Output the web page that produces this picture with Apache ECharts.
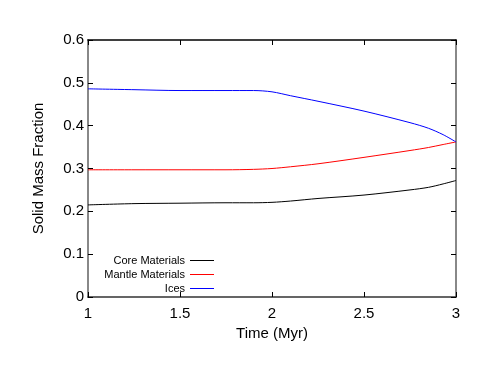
<!DOCTYPE html>
<html>
<head>
<meta charset="utf-8">
<script src="https://cdn.jsdelivr.net/npm/echarts@6/dist/echarts.min.js"></script>
<style>
  html, body { margin: 0; padding: 0; background: #fff; }
  #chart { width: 485px; height: 374px; }
</style>
</head>
<body>
<div id="chart"></div>
<script>
  // values
  var time = [1, 1.25, 1.5, 1.75, 1.9, 2.0, 2.1, 2.25, 2.5, 2.75, 2.85, 2.93, 3];
  var core = [0.215, 0.218, 0.219, 0.220, 0.220, 0.221, 0.224, 0.230, 0.238, 0.250, 0.256, 0.264, 0.272];
  var mantle = [0.297, 0.297, 0.297, 0.297, 0.298, 0.300, 0.304, 0.311, 0.326, 0.342, 0.349, 0.356, 0.362];
  var ices = [0.486, 0.484, 0.482, 0.482, 0.482, 0.479, 0.470, 0.457, 0.434, 0.407, 0.394, 0.379, 0.362];
  var seriesNames = ['Core Materials', 'Mantle Materials', 'Ices'];
  var colors = ['#000000', '#ff0000', '#0000ff'];

  function pairs(ys) {
    var out = [];
    for (var i = 0; i < time.length; i++) {
      out.push([time[i], ys[i]]);
    }
    return out;
  }

  var font = 'Liberation Sans, Arial, sans-serif';
  var chart = echarts.init(document.getElementById('chart'));

  var tickStyle = { show: true, inside: true, length: 5, lineStyle: { color: '#000', width: 1 } };

  var options = {
    animation: false,
    grid: { left: 88, top: 40, right: 29, bottom: 77 },
    legend: {
      orient: 'vertical',
      align: 'right',
      right: 266,
      top: 250,
      itemWidth: 24,
      itemHeight: 1,
      itemGap: 3,
      icon: 'rect',
      textStyle: { fontFamily: font, fontSize: 11, color: '#000' },
      data: seriesNames
    },
    xAxis: [{
      type: 'value',
      min: 1,
      max: 3,
      interval: 0.5,
      name: 'Time (Myr)',
      nameLocation: 'middle',
      nameGap: 28,
      nameTextStyle: { fontFamily: font, fontSize: 15, color: '#000' },
      axisLine: { onZero: false, lineStyle: { color: '#333', width: 1.5 } },
      axisTick: tickStyle,
      axisLabel: { fontFamily: font, fontSize: 15, color: '#000', margin: 9 },
      splitLine: { show: false }
    }, {
      type: 'value',
      position: 'top',
      min: 1,
      max: 3,
      interval: 0.5,
      axisLine: { show: true, onZero: false, lineStyle: { color: '#000', width: 1.5 } },
      axisTick: tickStyle,
      axisLabel: { show: false },
      splitLine: { show: false }
    }],
    yAxis: [{
      type: 'value',
      min: 0,
      max: 0.6,
      interval: 0.1,
      name: 'Solid Mass Fraction',
      nameLocation: 'middle',
      nameGap: 42,
      nameTextStyle: { fontFamily: font, fontSize: 15, color: '#000' },
      axisLine: { show: true, onZero: false, lineStyle: { color: '#888', width: 2 } },
      axisTick: tickStyle,
      axisLabel: { fontFamily: font, fontSize: 15, color: '#000', margin: 4 },
      splitLine: { show: false }
    }, {
      type: 'value',
      position: 'right',
      min: 0,
      max: 0.6,
      interval: 0.1,
      axisLine: { show: true, onZero: false, lineStyle: { color: '#888', width: 2 } },
      axisTick: tickStyle,
      axisLabel: { show: false },
      splitLine: { show: false }
    }],
    series: [core, mantle, ices].map(function (ys, i) {
      return {
        name: seriesNames[i],
        type: 'line',
        data: pairs(ys),
        smooth: 0.3,
        showSymbol: false,
        symbol: 'none',
        itemStyle: { color: colors[i] },
        lineStyle: { color: colors[i], width: 1 }
      };
    })
  };

  chart.setOption(options);
</script>
</body>
</html>
